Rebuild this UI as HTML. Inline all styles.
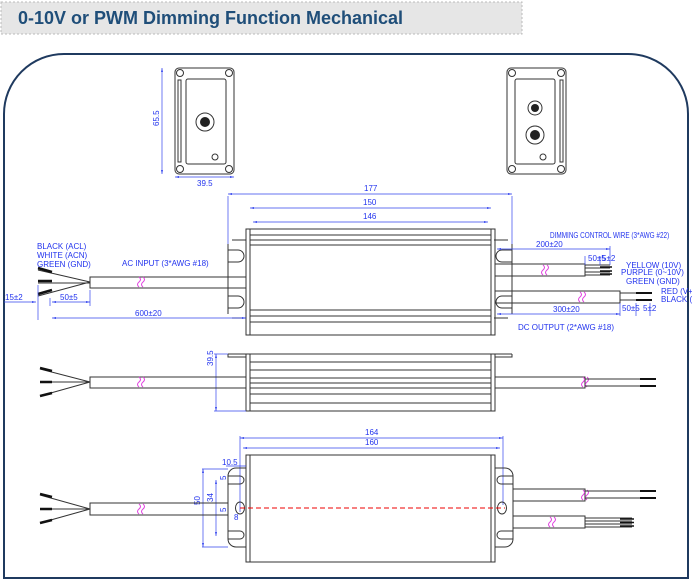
<!DOCTYPE html>
<html><head><meta charset="utf-8"><style>
body{margin:0;background:#fff}
svg{display:block}
.t{font-family:"Liberation Sans",sans-serif;fill:#2233ee;font-size:8px}
.k{stroke:#333;fill:none;stroke-width:1}
.d{stroke:#3344ee;fill:none;stroke-width:.7}
.w{stroke:#e040e0;fill:none;stroke-width:1}
</style></head><body>
<svg width="692" height="581" viewBox="0 0 692 581" xmlns="http://www.w3.org/2000/svg">
<defs>
<marker id="a" viewBox="0 0 6 6" refX="6" refY="3" markerWidth="6" markerHeight="6" orient="auto-start-reverse"><path d="M0,1.5L6,3L0,4.5z" fill="#3344ee"/></marker>
<g id="ev">
<rect x="0" y="0" width="59" height="106" rx="4" class="k"/>
<rect x="11" y="11" width="40" height="85" rx="2" class="k"/>
<rect x="3" y="12" width="3" height="82" class="k"/>
<circle cx="5" cy="5" r="3.5" class="k"/><circle cx="54" cy="5" r="3.5" class="k"/>
<circle cx="5" cy="101" r="3.5" class="k"/><circle cx="54" cy="101" r="3.5" class="k"/>
</g>
<g id="sq"><path d="M0,-5 q3,2.5 0,5 q-3,2.5 0,5" class="w"/><path d="M4,-5 q3,2.5 0,5 q-3,2.5 0,5" class="w"/></g>
</defs>
<rect x="1" y="2" width="521" height="32" fill="#e6e6e6" stroke="#bbb" stroke-dasharray="2,2"/>
<text x="18" y="24" font-family="Liberation Sans,sans-serif" font-weight="bold" font-size="18" fill="#1f4e79">0-10V or PWM Dimming Function Mechanical</text>
<path d="M64,54 H628 A60,60 0 0 1 688,114 V578 H4 V114 A60,60 0 0 1 64,54 Z" fill="none" stroke="#1f3a5f" stroke-width="2"/>

<!-- end views -->
<use href="#ev" x="175" y="68"/>
<circle cx="205" cy="122" r="9" class="k"/><circle cx="205" cy="122" r="5" fill="#222"/>
<circle cx="215" cy="157" r="3" class="k"/>
<line x1="162" y1="68" x2="162" y2="174" class="d" marker-start="url(#a)" marker-end="url(#a)"/>
<text class="t" transform="translate(159,126) rotate(-90)">65.5</text>
<line x1="175" y1="177" x2="234" y2="177" class="d" marker-start="url(#a)" marker-end="url(#a)"/>
<text class="t" x="197" y="186">39.5</text>
<g transform="translate(566,68) scale(-1,1)"><use href="#ev"/></g>
<circle cx="535" cy="108" r="7" class="k"/><circle cx="535" cy="108" r="4" fill="#222"/>
<circle cx="535" cy="135" r="9" class="k"/><circle cx="535" cy="135" r="5" fill="#222"/>
<circle cx="543" cy="157" r="3" class="k"/>

<!-- top view -->
<line x1="228" y1="194" x2="512" y2="194" class="d" marker-start="url(#a)" marker-end="url(#a)"/><text class="t" x="364" y="191">177</text>
<line x1="228" y1="196" x2="228" y2="245" class="d"/><line x1="512" y1="196" x2="512" y2="245" class="d"/>
<line x1="250" y1="208" x2="491" y2="208" class="d" marker-start="url(#a)" marker-end="url(#a)"/><text class="t" x="363" y="205">150</text>
<line x1="253" y1="222" x2="488" y2="222" class="d" marker-start="url(#a)" marker-end="url(#a)"/><text class="t" x="363" y="219">146</text>
<path d="M232,240 H246 M232,318 H246 M228,244 V314 M508,240 H494 M508,318 H494 M512,244 V314" class="k"/>
<path d="M246,233 V250 M246,262 V295 M246,307 V330" class="k"/>
<path d="M228,250 h10 a6,6 0 0 1 0,12 h-10 M228,296 h10 a6,6 0 0 1 0,12 h-10" class="k"/>
<path d="M512,250 h-10 a6,6 0 0 0 0,12 h10 M512,296 h-10 a6,6 0 0 0 0,12 h10" class="k"/>
<rect x="246" y="229" width="249" height="106" class="k"/>
<path d="M250,229 V335 M491,229 V335 M250,235 H491 M250,240 H491 M250,245 H491 M250,310 H491 M250,316 H491 M250,322 H491" class="k" stroke-width=".7"/>
<rect x="90" y="277" width="156" height="11" class="k"/>
<use href="#sq" x="139" y="282"/>
<path d="M38,270 L90,282 M38,283 H90 M38,296 L90,282" class="k"/>
<path d="M38,268 L52,272 M38,281 H52 M38,294 L52,290" stroke="#111" stroke-width="2.5"/>
<text class="t" x="37" y="249">BLACK (ACL)</text><text class="t" x="37" y="258">WHITE (ACN)</text><text class="t" x="37" y="267">GREEN (GND)</text>
<text class="t" x="122" y="266">AC INPUT (3*AWG #18)</text>
<line x1="4" y1="302" x2="36" y2="302" class="d" marker-end="url(#a)"/><text class="t" x="5" y="300">15±2</text>
<line x1="38" y1="285" x2="38" y2="320" class="d"/><line x1="50" y1="298" x2="50" y2="306" class="d"/><line x1="90" y1="290" x2="90" y2="306" class="d"/>
<line x1="52" y1="302" x2="90" y2="302" class="d" marker-start="url(#a)" marker-end="url(#a)"/><text class="t" x="60" y="300">50±5</text>
<line x1="52" y1="318" x2="246" y2="318" class="d" marker-start="url(#a)" marker-end="url(#a)"/><text class="t" x="135" y="316">600±20</text>
<rect x="495" y="264" width="90" height="12" class="k"/><use href="#sq" x="543" y="270"/>
<path d="M585,265 H610 M585,268 H610 M585,272 H610 M585,275 H610" class="k" stroke-width=".8"/>
<path d="M600,267 H612 M600,271 H612 M600,274 H612" stroke="#111" stroke-width="1.5"/>
<rect x="495" y="291" width="125" height="12" class="k"/><use href="#sq" x="580" y="297"/>
<path d="M620,293 H650 M620,300 H650" class="k"/>
<path d="M636,293 H652 M636,300 H652" stroke="#111" stroke-width="2"/>
<text class="t" transform="translate(550,238) scale(0.8,1)" font-size="6.5">DIMMING CONTROL WIRE (3*AWG #22)</text>
<line x1="497" y1="249" x2="610" y2="249" class="d" marker-start="url(#a)" marker-end="url(#a)"/><text class="t" x="536" y="247">200±20</text>
<line x1="610" y1="246" x2="610" y2="265" class="d"/><line x1="585" y1="256" x2="585" y2="265" class="d"/><line x1="600" y1="256" x2="600" y2="265" class="d"/>
<text class="t" x="588" y="261" font-size="4.5">50±5</text><text class="t" x="602" y="261" font-size="4.5">5±2</text>
<text class="t" x="626" y="268" font-size="4.5">YELLOW (10V)</text><text class="t" x="621" y="275" font-size="4.5">PURPLE (0~10V)</text><text class="t" x="626" y="284" font-size="4.5">GREEN (GND)</text>
<text class="t" x="661" y="294" font-size="4.5">RED (V+)</text><text class="t" x="661" y="302" font-size="4.5">BLACK (V-)</text>
<line x1="620" y1="303" x2="620" y2="316" class="d"/><line x1="636" y1="303" x2="636" y2="316" class="d"/><line x1="650" y1="303" x2="650" y2="316" class="d"/>
<text class="t" x="622" y="311" font-size="4.5">50±5</text><text class="t" x="643" y="311" font-size="4.5">5±2</text>
<line x1="497" y1="314" x2="620" y2="314" class="d" marker-start="url(#a)" marker-end="url(#a)"/><text class="t" x="553" y="312">300±20</text>
<text class="t" x="518" y="330">DC OUTPUT (2*AWG #18)</text>

<!-- side view -->
<path d="M228,354 H512 M228,354 V357 H246 M512,354 V357 H495" class="k"/>
<rect x="246" y="354" width="249" height="57" class="k"/>
<path d="M250,354 V411 M491,354 V411 M250,362 H491 M250,370 H491 M250,378 H491 M250,383 H491 M250,388 H491 M250,394 H491 M250,403 H491" class="k" stroke-width=".7"/>
<line x1="216" y1="354" x2="216" y2="411" class="d" marker-start="url(#a)" marker-end="url(#a)"/>
<line x1="214" y1="411" x2="246" y2="411" class="d"/><line x1="214" y1="354" x2="228" y2="354" class="d"/>
<text class="t" transform="translate(213,366) rotate(-90)">39.5</text>
<rect x="90" y="377" width="156" height="11" class="k"/><use href="#sq" x="139" y="382"/>
<path d="M40,369 L90,382 M40,382 H90 M40,396 L90,382" class="k"/>
<path d="M40,368 L52,371 M40,382 H52 M40,396 L52,393" stroke="#111" stroke-width="2.5"/>
<rect x="495" y="377" width="90" height="11" class="k"/><use href="#sq" x="583" y="382"/>
<path d="M585,379 H655 M585,386 H655" class="k"/>
<path d="M640,379 H656 M640,386 H656" stroke="#111" stroke-width="2"/>

<!-- bottom view -->
<line x1="240" y1="438" x2="503" y2="438" class="d" marker-start="url(#a)" marker-end="url(#a)"/><text class="t" x="365" y="435">164</text>
<line x1="243" y1="448" x2="500" y2="448" class="d" marker-start="url(#a)" marker-end="url(#a)"/><text class="t" x="365" y="445">160</text>
<line x1="240" y1="436" x2="240" y2="512" class="d"/><line x1="503" y1="436" x2="503" y2="505" class="d"/>
<rect x="246" y="455" width="249" height="107" class="k"/>
<path d="M250,455 V562 M491,455 V562" class="k" stroke-width=".7"/>
<path d="M246,468 H236 a8,8 0 0 0 -8,8 V539 a8,8 0 0 0 8,8 H246" class="k"/>
<path d="M495,468 H505 a8,8 0 0 1 8,8 V539 a8,8 0 0 1 -8,8 H495" class="k"/>
<path d="M228,476 h12 a4,4 0 0 1 0,8 h-12 M228,531 h12 a4,4 0 0 1 0,8 h-12" class="k"/>
<path d="M513,476 h-12 a4,4 0 0 0 0,8 h12 M513,531 h-12 a4,4 0 0 0 0,8 h12" class="k"/>
<ellipse cx="240" cy="508" rx="4.5" ry="6" class="k"/><ellipse cx="502" cy="508" rx="4.5" ry="6" class="k"/>
<line x1="240" y1="508" x2="505" y2="508" stroke="#e00" stroke-dasharray="5,3"/>
<line x1="202" y1="469" x2="228" y2="469" class="d"/><line x1="202" y1="547" x2="228" y2="547" class="d"/>
<line x1="203" y1="469" x2="203" y2="547" class="d" marker-start="url(#a)" marker-end="url(#a)"/><text class="t" transform="translate(200,505) rotate(-90)">50</text>
<line x1="216" y1="480" x2="216" y2="536" class="d" marker-start="url(#a)" marker-end="url(#a)"/><text class="t" transform="translate(213,502) rotate(-90)">34</text>
<text class="t" transform="translate(226,480) rotate(-90)">5</text><text class="t" transform="translate(226,512) rotate(-90)">5</text>
<text class="t" x="222" y="465">10.5</text><line x1="226" y1="466" x2="246" y2="466" class="d"/>
<text class="t" x="234" y="520">8</text>
<rect x="90" y="503" width="138" height="12" class="k"/><use href="#sq" x="139" y="509"/>
<path d="M40,495 L90,509 M40,509 H90 M40,523 L90,509" class="k"/>
<path d="M40,494 L52,497 M40,509 H52 M40,523 L52,520" stroke="#111" stroke-width="2.5"/>
<rect x="513" y="489" width="72" height="12" class="k"/><use href="#sq" x="583" y="495"/>
<path d="M585,491 H655 M585,498 H655" class="k"/><path d="M640,491 H656 M640,498 H656" stroke="#111" stroke-width="2"/>
<rect x="513" y="516" width="72" height="12" class="k"/><use href="#sq" x="550" y="522"/>
<path d="M585,518 H632 M585,521 H632 M585,524 H632 M585,527 H632" class="k" stroke-width=".8"/>
<path d="M620,519 H634 M620,522.5 H634 M620,526 H634" stroke="#111" stroke-width="1.5"/>
</svg>
</body></html>
